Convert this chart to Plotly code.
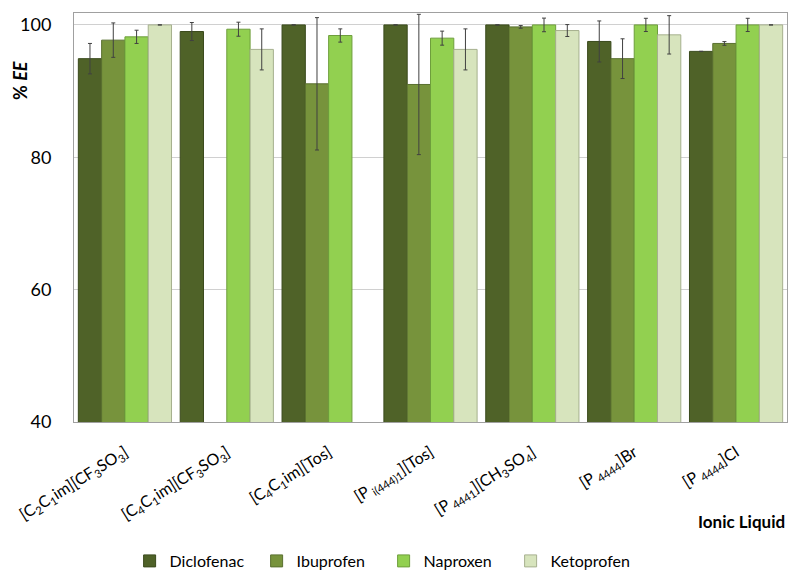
import plotly.graph_objects as go

categories = [
    "[C<sub>2</sub>C<sub>1</sub>im][CF<sub>3</sub>SO<sub>3</sub>]",
    "[C<sub>4</sub>C<sub>1</sub>im][CF<sub>3</sub>SO<sub>3</sub>]",
    "[C<sub>4</sub>C<sub>1</sub>im][Tos]",
    "[P<sub> i(444)1</sub>][Tos]",
    "[P<sub> 4441</sub>][CH<sub>3</sub>SO<sub>4</sub>]",
    "[P<sub> 4444</sub>]Br",
    "[P<sub> 4444</sub>]Cl",
]
series_names = ["Diclofenac", "Ibuprofen", "Naproxen", "Ketoprofen"]
diclofenac = [94.9, 99.0, 100.0, 100.0, 100.0, 97.5, 96.0]
diclofenac_err = [2.3, 1.36, None, None, None, 3.1, None]
ibuprofen = [97.7, None, 91.1, 91.0, 99.7, 94.9, 97.2]
ibuprofen_err = [2.6, None, 10.0, 10.6, 0.2, 3.0, 0.28]
naproxen = [98.2, 99.35, 98.4, 98.0, 100.0, 100.0, 100.0]
naproxen_err = [1.0, 1.06, 1.0, 1.06, 1.03, 1.0, 1.0]
ketoprofen = [100.0, 96.3, None, 96.3, 99.15, 98.5, 100.0]
ketoprofen_err = [None, 3.1, None, 3.1, 0.9, 2.9, None]

colors = ["#4f6228", "#77933c", "#92d050", "#d7e4bd"]
outlines = ["#3a4a1c", "#5a7030", "#6e9e3c", "#a6b08e"]
values = [diclofenac, ibuprofen, naproxen, ketoprofen]
errors = [diclofenac_err, ibuprofen_err, naproxen_err, ketoprofen_err]

# page body has an 8px default margin; compensate so the plot lands where the reference has it
OFF = 8
L, T, PW, PH = 74 - OFF, 13 - OFF, 713, 409
W, H = 800, 579

FONT = "Lato"
fig = go.Figure()
for name, v, e, c, oc in zip(series_names, values, errors, colors, outlines):
    fig.add_trace(go.Bar(
        name=name, x=categories, y=v,
        marker=dict(color=c, line=dict(color=oc, width=1)),
        error_y=dict(type="data", array=e, visible=True, color="#404040",
                     thickness=1, width=2),
    ))

fig.update_layout(
    width=W, height=H,
    barmode="group", bargap=0.085, bargroupgap=0,
    paper_bgcolor="white", plot_bgcolor="white",
    margin=dict(l=L, r=W - L - PW, t=T, b=H - T - PH),
    font=dict(family=FONT, size=15, color="#000000"),
    legend=dict(orientation="h", x=0.078, xanchor="left",
                yref="container", y=1 - (544 - OFF) / H, yanchor="top",
                font=dict(size=16), entrywidth=82, entrywidthmode="pixels",
                traceorder="normal"),
    showlegend=True,
)
fig.update_xaxes(
    tickangle=-32, showline=True, mirror=True, linecolor="#a0a0a0", linewidth=1,
    ticks="", tickfont=dict(size=16, family=FONT), ticklabelstandoff=14,
    automargin=False,
)
fig.update_yaxes(
    range=[40, 101.8], tickvals=[40, 60, 80, 100], showgrid=True,
    gridcolor="#d0d0d0", gridwidth=1, showline=True, mirror=True,
    linecolor="#a0a0a0", linewidth=1, ticks="", zeroline=False,
    tickfont=dict(size=18, family=FONT), ticklabelstandoff=18, automargin=False,
)
fig.add_annotation(text="<b>% <i>EE</i></b>", xref="paper", yref="paper",
                   x=(20 - 74) / PW, y=1 - (81 - 13) / PH, textangle=-90,
                   xanchor="center", yanchor="middle", showarrow=False,
                   font=dict(size=18, family=FONT))
fig.add_annotation(text="<b>Ionic Liquid</b>", xref="paper", yref="paper",
                   x=1.0, y=-(521 - 422) / PH, xanchor="right", yanchor="middle",
                   showarrow=False, font=dict(size=17, family=FONT))
fig.write_html("out.html")
